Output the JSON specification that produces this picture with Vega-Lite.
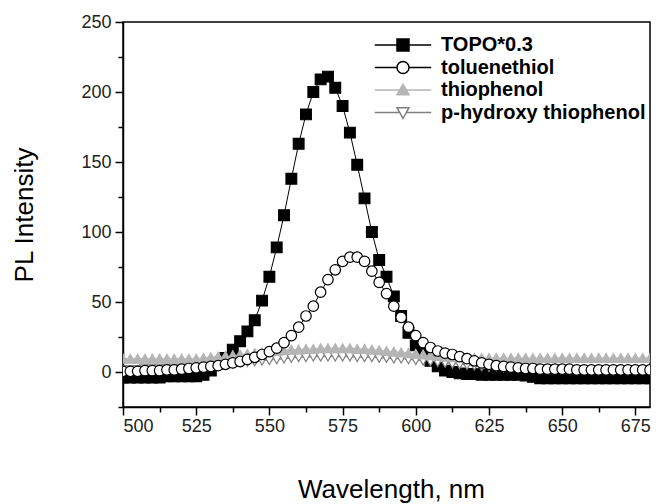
{
  "$schema": "https://vega.github.io/schema/vega-lite/v6.json",
  "width": 527,
  "height": 385,
  "autosize": {"type": "none"},
  "padding": {"left": 123, "top": 22, "right": 6, "bottom": 97},
  "background": "white",
  "config": {
    "font": "Liberation Sans",
    "view": {"stroke": "#000", "strokeWidth": 1.5},
    "legend": {
      "labelFontSize": 20, "labelFontWeight": "bold", "labelColor": "#000", "labelFont": "Liberation Sans",
      "symbolSize": 144, "symbolStrokeWidth": 1.5, "labelOffset": 28, "rowPadding": 2.5,
      "padding": 0, "symbolOffset": 0, "labelLimit": 400
    }
  },
  "data": {"values": [
    {"x": 500, "a": -4, "b": 1.5, "c": 9.5, "d": 0.5},
    {"x": 502.5, "a": -4, "b": 1.5, "c": 9.5, "d": 0.5},
    {"x": 505, "a": -4, "b": 1.5, "c": 9.5, "d": 0.5},
    {"x": 507.5, "a": -4, "b": 2, "c": 9.5, "d": 1},
    {"x": 510, "a": -4, "b": 2, "c": 9.5, "d": 1},
    {"x": 512.5, "a": -4, "b": 2, "c": 9.5, "d": 1},
    {"x": 515, "a": -3, "b": 2.5, "c": 9.5, "d": 1.5},
    {"x": 517.5, "a": -3, "b": 2.5, "c": 9.5, "d": 1.5},
    {"x": 520, "a": -3, "b": 3, "c": 9.5, "d": 2},
    {"x": 522.5, "a": -3, "b": 3, "c": 9.5, "d": 2.5},
    {"x": 525, "a": -3, "b": 3.5, "c": 9.5, "d": 3},
    {"x": 527.5, "a": -2, "b": 4, "c": 10, "d": 3.5},
    {"x": 530, "a": 1, "b": 4.5, "c": 10.5, "d": 4},
    {"x": 532.5, "a": 6, "b": 5, "c": 11, "d": 4.5},
    {"x": 535, "a": 10, "b": 5.5, "c": 11.5, "d": 5.5},
    {"x": 537.5, "a": 16, "b": 6, "c": 12, "d": 6.5},
    {"x": 540, "a": 22, "b": 6.5, "c": 12.5, "d": 7.5},
    {"x": 542.5, "a": 29, "b": 7, "c": 13, "d": 9},
    {"x": 545, "a": 37, "b": 7.5, "c": 13.5, "d": 10.5},
    {"x": 547.5, "a": 51, "b": 8, "c": 14, "d": 12.5},
    {"x": 550, "a": 68, "b": 8.5, "c": 14.5, "d": 14.5},
    {"x": 552.5, "a": 89, "b": 9, "c": 15, "d": 17},
    {"x": 555, "a": 112, "b": 9.5, "c": 15.5, "d": 21},
    {"x": 557.5, "a": 138, "b": 10, "c": 16, "d": 26},
    {"x": 560, "a": 163, "b": 10.5, "c": 16, "d": 32},
    {"x": 562.5, "a": 184, "b": 10.5, "c": 16.5, "d": 40},
    {"x": 565, "a": 200, "b": 11, "c": 16.5, "d": 47},
    {"x": 567.5, "a": 209, "b": 11, "c": 17, "d": 57},
    {"x": 570, "a": 211, "b": 11, "c": 17, "d": 66},
    {"x": 572.5, "a": 203, "b": 11, "c": 17, "d": 73},
    {"x": 575, "a": 190, "b": 11, "c": 17, "d": 79},
    {"x": 577.5, "a": 171, "b": 11, "c": 17, "d": 82},
    {"x": 580, "a": 148, "b": 10.5, "c": 16.5, "d": 82},
    {"x": 582.5, "a": 124, "b": 10.5, "c": 16.5, "d": 79},
    {"x": 585, "a": 100, "b": 10.5, "c": 16, "d": 72},
    {"x": 587.5, "a": 80, "b": 10, "c": 15.5, "d": 64},
    {"x": 590, "a": 68, "b": 10, "c": 15, "d": 56},
    {"x": 592.5, "a": 54, "b": 9.5, "c": 14.5, "d": 47},
    {"x": 595, "a": 40, "b": 9.5, "c": 14, "d": 39},
    {"x": 597.5, "a": 28, "b": 9, "c": 13.5, "d": 32},
    {"x": 600, "a": 19, "b": 8.5, "c": 13, "d": 26},
    {"x": 602.5, "a": 13, "b": 8, "c": 12.5, "d": 21},
    {"x": 605, "a": 8, "b": 7.5, "c": 12, "d": 17.5},
    {"x": 607.5, "a": 4, "b": 7, "c": 11.5, "d": 15},
    {"x": 610, "a": 1, "b": 6.5, "c": 11, "d": 13.5},
    {"x": 612.5, "a": 0, "b": 6, "c": 10.5, "d": 12.5},
    {"x": 615, "a": -1, "b": 5.5, "c": 10.5, "d": 11},
    {"x": 617.5, "a": -1.5, "b": 5, "c": 10, "d": 9.5},
    {"x": 620, "a": -1.5, "b": 4.5, "c": 10, "d": 8},
    {"x": 622.5, "a": -2, "b": 4, "c": 10, "d": 6.5},
    {"x": 625, "a": -2, "b": 3.5, "c": 10, "d": 5.5},
    {"x": 627.5, "a": -2, "b": 3.5, "c": 10, "d": 4.5},
    {"x": 630, "a": -2, "b": 3, "c": 10, "d": 4},
    {"x": 632.5, "a": -2, "b": 3, "c": 10, "d": 3.5},
    {"x": 635, "a": -2, "b": 2.5, "c": 10, "d": 3},
    {"x": 637.5, "a": -2.5, "b": 2.5, "c": 10, "d": 2.5},
    {"x": 640, "a": -3.5, "b": 2.5, "c": 10, "d": 2.5},
    {"x": 642.5, "a": -4.5, "b": 2, "c": 10, "d": 2},
    {"x": 645, "a": -4.5, "b": 2, "c": 10, "d": 2},
    {"x": 647.5, "a": -4.5, "b": 2, "c": 10, "d": 2},
    {"x": 650, "a": -4.5, "b": 2, "c": 10, "d": 2},
    {"x": 652.5, "a": -4.5, "b": 1.5, "c": 10, "d": 2},
    {"x": 655, "a": -4.5, "b": 1.5, "c": 10, "d": 1.5},
    {"x": 657.5, "a": -4.5, "b": 1.5, "c": 10, "d": 1.5},
    {"x": 660, "a": -4.5, "b": 1.5, "c": 10, "d": 1.5},
    {"x": 662.5, "a": -4.5, "b": 1.5, "c": 10, "d": 1.5},
    {"x": 665, "a": -4.5, "b": 1.5, "c": 10, "d": 1.5},
    {"x": 667.5, "a": -4.5, "b": 1.5, "c": 10, "d": 1.5},
    {"x": 670, "a": -4.5, "b": 1.5, "c": 10, "d": 1.5},
    {"x": 672.5, "a": -4.5, "b": 1.5, "c": 10, "d": 1.5},
    {"x": 675, "a": -4.5, "b": 1.5, "c": 10, "d": 1.5},
    {"x": 677.5, "a": -4.5, "b": 1.5, "c": 10, "d": 1.5},
    {"x": 680, "a": -4.5, "b": 1.5, "c": 10, "d": 1.5}
  ]},
  "transform": [{"fold": ["a", "b", "c", "d"], "as": ["key", "val"]}],
  "layer": [
    {
      "mark": {"type": "line", "strokeWidth": 1, "clip": true},
      "encoding": {
        "x": {"field": "x", "type": "quantitative",
          "scale": {"domain": [500, 680], "nice": false, "zero": false},
          "axis": {"orient": "bottom", "values": [500, 525, 550, 575, 600, 625, 650, 675], "format": "d",
            "tickSize": 8, "tickWidth": 1.5, "tickColor": "#000", "domainColor": "#000", "domainWidth": 1.5,
            "labelFontSize": 18, "labelColor": "#222", "labelPadding": 2, "grid": false,
            "title": "Wavelength, nm", "titleFontSize": 26, "titleFontWeight": "normal", "titleColor": "#000",
            "titleBaseline": "alphabetic", "titleY": 90, "titleX": 268}},
        "y": {"field": "val", "type": "quantitative",
          "scale": {"domain": [-25, 250], "nice": false, "zero": false},
          "axis": {"orient": "left", "values": [0, 50, 100, 150, 200, 250], "format": "d",
            "tickSize": 8, "tickWidth": 1.5, "tickColor": "#000", "domainColor": "#000", "domainWidth": 1.5,
            "labelFontSize": 18, "labelColor": "#222", "labelPadding": 4, "grid": false,
            "title": "PL Intensity", "titleFontSize": 26, "titleFontWeight": "normal", "titleColor": "#000",
            "titleBaseline": "alphabetic", "titleX": -91}},
        "stroke": {"field": "key", "type": "nominal",
          "scale": {"domain": ["a", "d", "c", "b"], "range": ["#000000", "#000000", "#b5b5b5", "#808080"]},
          "legend": null}
      }
    },
    {
      "mark": {"type": "point", "opacity": 1, "strokeWidth": 1.2, "clip": true},
      "encoding": {
        "x": {"field": "x", "type": "quantitative",
          "axis": {"orient": "bottom", "values": [512.5, 537.5, 562.5, 587.5, 612.5, 637.5, 662.5],
            "tickSize": 5, "tickWidth": 1.5, "tickColor": "#000", "domain": false, "labels": false, "grid": false, "title": null}},
        "y": {"field": "val", "type": "quantitative",
          "axis": {"orient": "left", "values": [-25, 25, 75, 125, 175, 225],
            "tickSize": 5, "tickWidth": 1.5, "tickColor": "#000", "domain": false, "labels": false, "grid": false, "title": null}},
        "shape": {"field": "key", "type": "nominal",
          "scale": {"domain": ["a", "d", "c", "b"], "range": ["square", "circle", "triangle-up", "triangle-down"]},
          "legend": null},
        "size": {"field": "key", "type": "nominal",
          "scale": {"domain": ["a", "d", "c", "b"], "range": [115, 100, 95, 95]},
          "legend": null},
        "fill": {"field": "key", "type": "nominal",
          "scale": {"domain": ["a", "d", "c", "b"], "range": ["#000000", "#ffffff", "#b5b5b5", "#ffffff"]},
          "legend": null},
        "stroke": {"field": "key", "type": "nominal",
          "scale": {"domain": ["a", "d", "c", "b"], "range": ["#000000", "#000000", "#b5b5b5", "#808080"]},
          "legend": null},
        "order": {"field": "key", "type": "ordinal"}
      }
    },
    {
      "transform": [{"filter": "false"}],
      "mark": {"type": "point", "opacity": 1, "size": 144, "strokeWidth": 1.5},
      "encoding": {
        "shape": {"field": "key", "type": "nominal",
          "scale": {"domain": ["a", "d", "c", "b"], "range": [
            "M-4.7,0H-1M1,0H4.7M-1,-1H1V1H-1Z",
            "M-4.7,0H-1M1,0H4.7M1,0A1,1,0,1,1,-1,0A1,1,0,1,1,1,0Z",
            "M-4.7,0H-0.55M0.55,0H4.7M0,-1L1,0.8L-1,0.8Z",
            "M-4.7,0H-0.55M0.55,0H4.7M0,1L1,-0.8L-1,-0.8Z"]},
          "legend": {"title": null, "orient": "none", "legendX": 270, "legendY": 13,
            "labelExpr": "{'a':'TOPO*0.3','d':'toluenethiol','c':'thiophenol','b':'p-hydroxy thiophenol'}[datum.value]"}},
        "fill": {"field": "key", "type": "nominal",
          "scale": {"domain": ["a", "d", "c", "b"], "range": ["#000000", "#ffffff", "#b5b5b5", "#ffffff"]},
          "legend": {"title": null, "orient": "none", "legendX": 270, "legendY": 13,
            "labelExpr": "{'a':'TOPO*0.3','d':'toluenethiol','c':'thiophenol','b':'p-hydroxy thiophenol'}[datum.value]"}},
        "stroke": {"field": "key", "type": "nominal",
          "scale": {"domain": ["a", "d", "c", "b"], "range": ["#000000", "#000000", "#b5b5b5", "#808080"]},
          "legend": {"title": null, "orient": "none", "legendX": 270, "legendY": 13,
            "labelExpr": "{'a':'TOPO*0.3','d':'toluenethiol','c':'thiophenol','b':'p-hydroxy thiophenol'}[datum.value]"}}
      }
    }
  ],
  "resolve": {
    "scale": {"shape": "independent", "fill": "independent", "stroke": "independent", "size": "independent"},
    "axis": {"x": "independent", "y": "independent"}
  }
}
